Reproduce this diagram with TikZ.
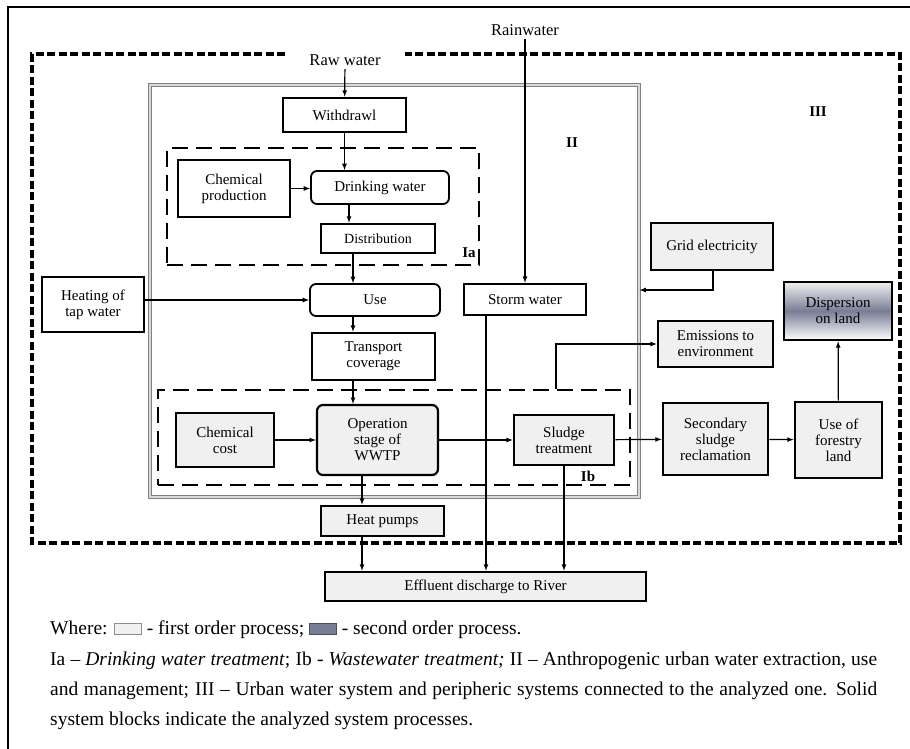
\documentclass[tikz,border=0pt]{standalone}
\usepackage{fontspec}
\setmainfont{Liberation Serif}
\usepackage{tikz}
\usetikzlibrary{shapes,arrows}
\definecolor{procfill}{RGB}{240,240,240}
\definecolor{dispmid}{RGB}{120,125,150}
\newcommand{\BOXFONT}{\fontsize{15}{16}\selectfont}
\newcommand{\LEGFONT}{\fontsize{19.5}{30}\selectfont}
\newcommand{\LEGBOX}[2]{%
    {\setlength{\fboxsep}{0pt}\setlength{\fboxrule}{0.9pt}\raisebox{0.5pt}{\fcolorbox{#1}{#2}{\rule{0pt}{10pt}\rule{26pt}{0pt}}}}%
}
\tikzset{
  proc box/.style={
    draw=black,line width=2.6pt,fill=white,align=center,inner sep=2pt,font=\BOXFONT,
  },
  first order/.style={proc box,fill=procfill},
  round box/.style={proc box,rounded corners=6pt,line width=1.8pt},
  dims/.style 2 args={minimum width=#1pt,minimum height=#2pt},
  flowline/.style={-latex,line width=1.2pt},
  subsys/.style={draw=black,line width=2.6pt,dash pattern=on 16pt off 8pt,inner sep=0pt},
  outer subsys/.style={draw=black,line width=3.4pt,dash pattern=on 8pt off 3.5pt},
  subsys label/.style={font=\fontsize{15}{15}\selectfont\bfseries},
}

\begin{document}
\begin{tikzpicture}[x=1pt,y=-1pt]
        \useasboundingbox (0,0) rectangle (910,749);
        \draw[line width=1.4pt] (8,749) -- (8,7) -- (910,7);

        \draw[outer subsys] (285,54) -- (32,54) -- (32,543) -- (900,543) -- (900,54) -- (405,54);
        \node[draw=black!50,double=black!15,line width=1pt,double distance=1.2pt,inner sep=0pt,dims={489}{412}] (sysII) at (394.5,291) {};
        \node[subsys,dims={312}{117}] (sysIa) at (323,206.5) {};
        \node[subsys,dims={472}{95}] (sysIb) at (394,437.5) {};
        \node[subsys label] (labII) at (572,143) {II};
        \node[subsys label] (labIII) at (818,112) {III};
        \node[subsys label] (labIa) at (469,253) {Ia};
        \node[subsys label] (labIb) at (588,476) {Ib};

        \node[font=\fontsize{16.5}{16.5}\selectfont] (raw) at (345,60) {Raw water};
        \node[font=\fontsize{16.5}{16.5}\selectfont] (rain) at (525,30) {Rainwater};

        \node[proc box,dims={123}{34}] (withdrawl) at (344.5,115) {Withdrawl};
        \node[proc box,dims={112}{57}] (chemprod) at (234,188.5) {Chemical\\production};
        \node[round box,dims={138}{33}] (drinking) at (380,187.5) {Drinking water};
        \node[proc box,dims={114}{29},font=\fontsize{14}{15}\selectfont] (distribution) at (378,238.5) {Distribution};
        \node[proc box,dims={102}{55}] (heating) at (93,304.5) {Heating of\\tap water};
        \node[round box,dims={130}{32}] (use) at (375,300) {Use};
        \node[proc box,dims={123}{47}] (transport) at (373.5,356.5) {Transport\\coverage};
        \node[proc box,dims={122}{31}] (storm) at (525,299.5) {Storm water};
        \node[first order,dims={122}{47}] (grid) at (712,246.5) {Grid electricity};
        \node[first order,dims={115}{46}] (emissions) at (715.5,344) {Emissions to\\environment};
        \node[proc box,dims={108}{58},top color=black!6,bottom color=white,middle color=dispmid] (dispersion) at (838,311) {Dispersion\\on land};
        \node[first order,dims={98}{54}] (chemcost) at (225,440) {Chemical\\cost};
        \node[round box,fill=procfill,dims={121}{70},line width=2.2pt] (operation) at (377.5,440) {Operation\\stage of\\WWTP};
        \node[first order,dims={100}{50}] (sludge) at (564,440) {Sludge\\treatment};
        \node[first order,dims={105}{72}] (secondary) at (715.5,439) {Secondary\\sludge\\reclamation};
        \node[first order,dims={87}{76}] (forestry) at (838.5,440) {Use of\\forestry\\land};
        \node[first order,dims={123}{30}] (heatpumps) at (382.5,521) {Heat pumps};
        \node[first order,dims={321}{29}] (effluent) at (485.5,586.5) {Effluent discharge to River};

        \coordinate (spineA) at (349,0);
        \coordinate (spineB) at (353,0);
        \coordinate (spineC) at (362,0);
        \coordinate (stormx) at (486,0);
        \coordinate (gridturn) at (713,290);
        \coordinate (emturn) at (556,344);

        \draw[flowline] (raw) -- (withdrawl);
        \draw[flowline] (withdrawl.south) -- (withdrawl.south |- drinking.north);
        \draw[flowline] (chemprod.east) -- (chemprod.east -| drinking.west);
        \draw[flowline] (drinking.south -| spineA) -- (distribution.north -| spineA);
        \draw[flowline] (distribution.south -| spineB) -- (use.north -| spineB);
        \draw[flowline] (heating.east |- use.west) -- (use.west);
        \draw[flowline] (use.south -| spineB) -- (transport.north -| spineB);
        \draw[flowline] (transport.south -| spineB) -- (operation.north -| spineB);
        \draw[flowline] (chemcost.east) -- (chemcost.east -| operation.west);
        \draw[flowline] (operation) -- (sludge);
        \draw[flowline] (sludge) -- (secondary);
        \draw[flowline] (secondary) -- (forestry);
        \draw[flowline] (forestry) -- (dispersion);
        \draw[flowline] (operation.south -| spineC) -- (heatpumps.north -| spineC);
        \draw[flowline] (heatpumps.south -| spineC) -- (effluent.north -| spineC);
        \draw[flowline] (rain) -- (storm);
        \draw[flowline] (storm.south -| stormx) -- (effluent.north -| stormx);
        \draw[flowline] (sludge.south) -- (sludge.south |- effluent.north);
        \draw[flowline] (grid.south -| gridturn) -- (gridturn) -- (gridturn -| sysII.east);
        \draw[flowline] (sysIb.north -| emturn) -- (emturn) -- (emissions.west);

        \node[anchor=base west,font=\LEGFONT,inner sep=0pt] (where) at (50,634) {Where: \LEGBOX{black!45}{procfill} - first order process; \LEGBOX{black!70}{dispmid} - second order process.};
        \node[anchor=base west,font=\LEGFONT,inner sep=0pt] (notesA) at (50,665) {\makebox[827pt][s]{Ia – \textit{Drinking water treatment}; Ib - \textit{Wastewater treatment;} II – Anthropogenic urban water extraction, use}};
        \node[anchor=base west,font=\LEGFONT,inner sep=0pt] (notesB) at (50,695) {\makebox[827pt][s]{and management; III – Urban water system and peripheric systems connected to the analyzed one. Solid}};
        \node[anchor=base west,font=\LEGFONT,inner sep=0pt] (notesC) at (50,725) {system blocks indicate the analyzed system processes.};
    \end{tikzpicture}
\end{document}
